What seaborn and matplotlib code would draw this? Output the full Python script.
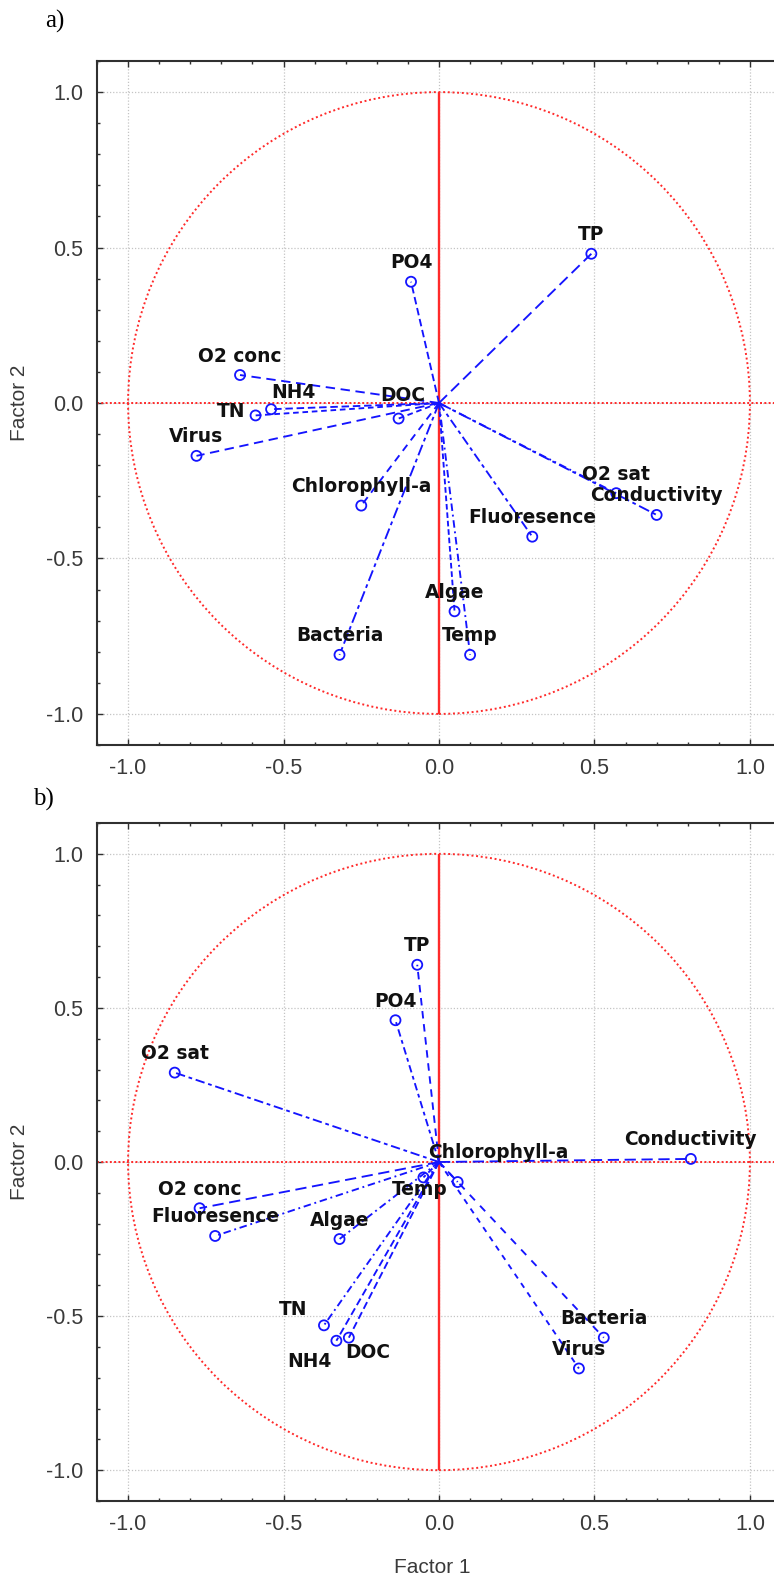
import numpy as np
import pandas as pd
import matplotlib
matplotlib.use("Agg")
import matplotlib.pyplot as plt
from matplotlib.patches import Circle
from matplotlib.ticker import MultipleLocator
import seaborn as sns

# ---- factor loadings, panel a ----
a_vars = ["TP", "PO4", "O2 conc", "NH4", "TN", "Virus", "DOC", "Chlorophyll-a",
          "Bacteria", "O2 sat", "Conductivity", "Fluoresence", "Algae", "Temp"]
a_f1 = [0.49, -0.09, -0.64, -0.54, -0.59, -0.78, -0.13, -0.25,
        -0.32, 0.57, 0.70, 0.30, 0.05, 0.10]
a_f2 = [0.48, 0.39, 0.09, -0.02, -0.04, -0.17, -0.05, -0.33,
        -0.81, -0.29, -0.36, -0.43, -0.67, -0.81]

# ---- factor loadings, panel b ----
b_vars = ["TP", "PO4", "O2 sat", "Conductivity", "Chlorophyll-a", "Temp", "O2 conc",
          "Fluoresence", "Algae", "TN", "NH4", "DOC", "Bacteria", "Virus"]
b_f1 = [-0.07, -0.14, -0.85, 0.81, 0.06, -0.05, -0.77,
        -0.72, -0.32, -0.37, -0.33, -0.29, 0.53, 0.45]
b_f2 = [0.64, 0.46, 0.29, 0.01, -0.065, -0.05, -0.15,
        -0.24, -0.25, -0.53, -0.58, -0.57, -0.57, -0.67]

tick_values = [-1.0, -0.5, 0.0, 0.5, 1.0]
x_title = "Factor 1"
y_title = "Factor 2"

# ---- styling: dash patterns and label nudges (pixels, +y is up) ----
a_dashes = {
    "TP": (6, 3), "PO4": (4, 2), "O2 conc": (5, 3), "NH4": (4, 2), "TN": (3, 2),
    "Virus": (5, 3), "DOC": (3, 2), "Chlorophyll-a": (4, 3), "Bacteria": (6, 2, 2, 2),
    "O2 sat": (4, 2, 1, 2, 1, 2), "Conductivity": (6, 2, 2, 2),
    "Fluoresence": (5, 2, 2, 2), "Algae": (3, 1.5), "Temp": (4, 2, 1, 2),
}
b_dashes = {
    "TP": (4, 3), "PO4": (4, 2, 2, 2), "O2 sat": (5, 2, 2, 2), "Conductivity": (6, 3),
    "Chlorophyll-a": (4, 3), "Temp": (3, 2), "O2 conc": (6, 3),
    "Fluoresence": (4, 2, 1, 2), "Algae": (4, 2, 1, 2), "TN": (4, 2, 1, 2),
    "NH4": (4, 2), "DOC": (4, 2), "Bacteria": (4, 4), "Virus": (3, 3),
}
a_nudge = {"NH4": (22, 17), "TN": (-24, 4), "DOC": (4, 23)}
b_nudge = {"TN": (-31, 16), "NH4": (-27, -21), "DOC": (19, -15),
           "Temp": (-4, -12), "Chlorophyll-a": (41, 30)}

sns.set_style("white")
plt.rcParams["font.family"] = ["DejaVu Sans"]

W, H = 774, 1579
fig = plt.figure(figsize=(W / 100, H / 100), dpi=100)
fig.patch.set_facecolor("white")

BLUE = "#1414ff"
RED = "#ff2a2a"
TICK_FONT = dict(family="Liberation Sans", size=15.5, color="#3a3a3a")


def px_axes(left, top, right, bottom):
    return [left / W, 1 - bottom / H, (right - left) / W, (bottom - top) / H]


def loading_panel(ax, names, f1, f2, dashes, nudge, show_xlabel):
    ax.set_xlim(-1.1, 1.1)
    ax.set_ylim(-1.1, 1.1)

    # reference grid
    ax.xaxis.set_minor_locator(MultipleLocator(0.1))
    ax.yaxis.set_minor_locator(MultipleLocator(0.1))
    ax.set_xticks(tick_values)
    ax.set_yticks(tick_values)
    ax.set_xticklabels([f"{v:.1f}" for v in tick_values], **TICK_FONT)
    ax.set_yticklabels([f"{v:.1f}" for v in tick_values], **TICK_FONT)
    ax.grid(True, which="major", color="#c4c4c4", linestyle=(0, (1, 1.5)), linewidth=0.9)
    ax.set_axisbelow(True)
    ax.tick_params(which="both", direction="in", top=True, right=True,
                   left=True, bottom=True, color="#303030")
    ax.tick_params(which="major", length=4.5, width=1.0, pad=10)
    ax.tick_params(which="minor", length=2.2, width=1.0)
    ax.tick_params(axis="x", which="major", pad=9)
    for side in ("left", "top", "bottom", "right"):
        ax.spines[side].set_color("#303030")
        ax.spines[side].set_linewidth(1.5)

    # unit circle and the two reference axes
    ax.add_patch(Circle((0, 0), 1.0, fill=False, edgecolor=RED,
                        linestyle=(0, (1, 1.4)), linewidth=1.4, zorder=1))
    ax.axhline(0, color=RED, linestyle=(0, (1, 1.2)), linewidth=1.4, zorder=1)
    ax.vlines(0, -1, 1, color=RED, linewidth=1.7, zorder=1)

    # vectors from the origin to each loading
    rows = []
    for n, x, y in zip(names, f1, f2):
        rows.append({"var": n, "f1": 0.0, "f2": 0.0})
        rows.append({"var": n, "f1": x, "f2": y})
    seg = pd.DataFrame(rows)
    sns.lineplot(data=seg, x="f1", y="f2", units="var", style="var",
                 dashes=dashes, estimator=None, sort=False, color=BLUE,
                 linewidth=1.35, legend=False, ax=ax, zorder=2)

    sns.scatterplot(x=f1, y=f2, marker="o", s=52, facecolors="none",
                    edgecolor=BLUE, linewidth=1.3, ax=ax, zorder=3)

    for n, x, y in zip(names, f1, f2):
        dx, dy = nudge.get(n, (0, 19))
        ax.annotate(n, (x, y), xytext=(dx * 0.72, dy * 0.72),
                    textcoords="offset points", ha="center", va="center",
                    fontsize=13.4, fontweight="bold", color="#111111",
                    family="DejaVu Sans", zorder=4)

    ax.set_ylabel(y_title, fontfamily="Liberation Sans", fontsize=15, color="#3a3a3a",
                  va="center")
    ax.yaxis.set_label_coords(-0.1126, 0.5)
    if show_xlabel:
        ax.set_xlabel(x_title, fontfamily="Liberation Sans", fontsize=15,
                      color="#3a3a3a", va="center")
        ax.xaxis.set_label_coords(0.49, -0.098)
    else:
        ax.set_xlabel("")


ax_a = fig.add_axes(px_axes(97, 61, 781, 745))
loading_panel(ax_a, a_vars, a_f1, a_f2, a_dashes, a_nudge, show_xlabel=False)

ax_b = fig.add_axes(px_axes(97, 823, 781, 1501))
loading_panel(ax_b, b_vars, b_f1, b_f2, b_dashes, b_nudge, show_xlabel=True)

fig.text(45 / W, 1 - 21 / H, "a)", family="Liberation Serif", fontsize=18,
         ha="left", va="center", color="black")
fig.text(33 / W, 1 - 799 / H, "b)", family="Liberation Serif", fontsize=18,
         ha="left", va="center", color="black")

fig.savefig("out.png", dpi=100, facecolor="white")
